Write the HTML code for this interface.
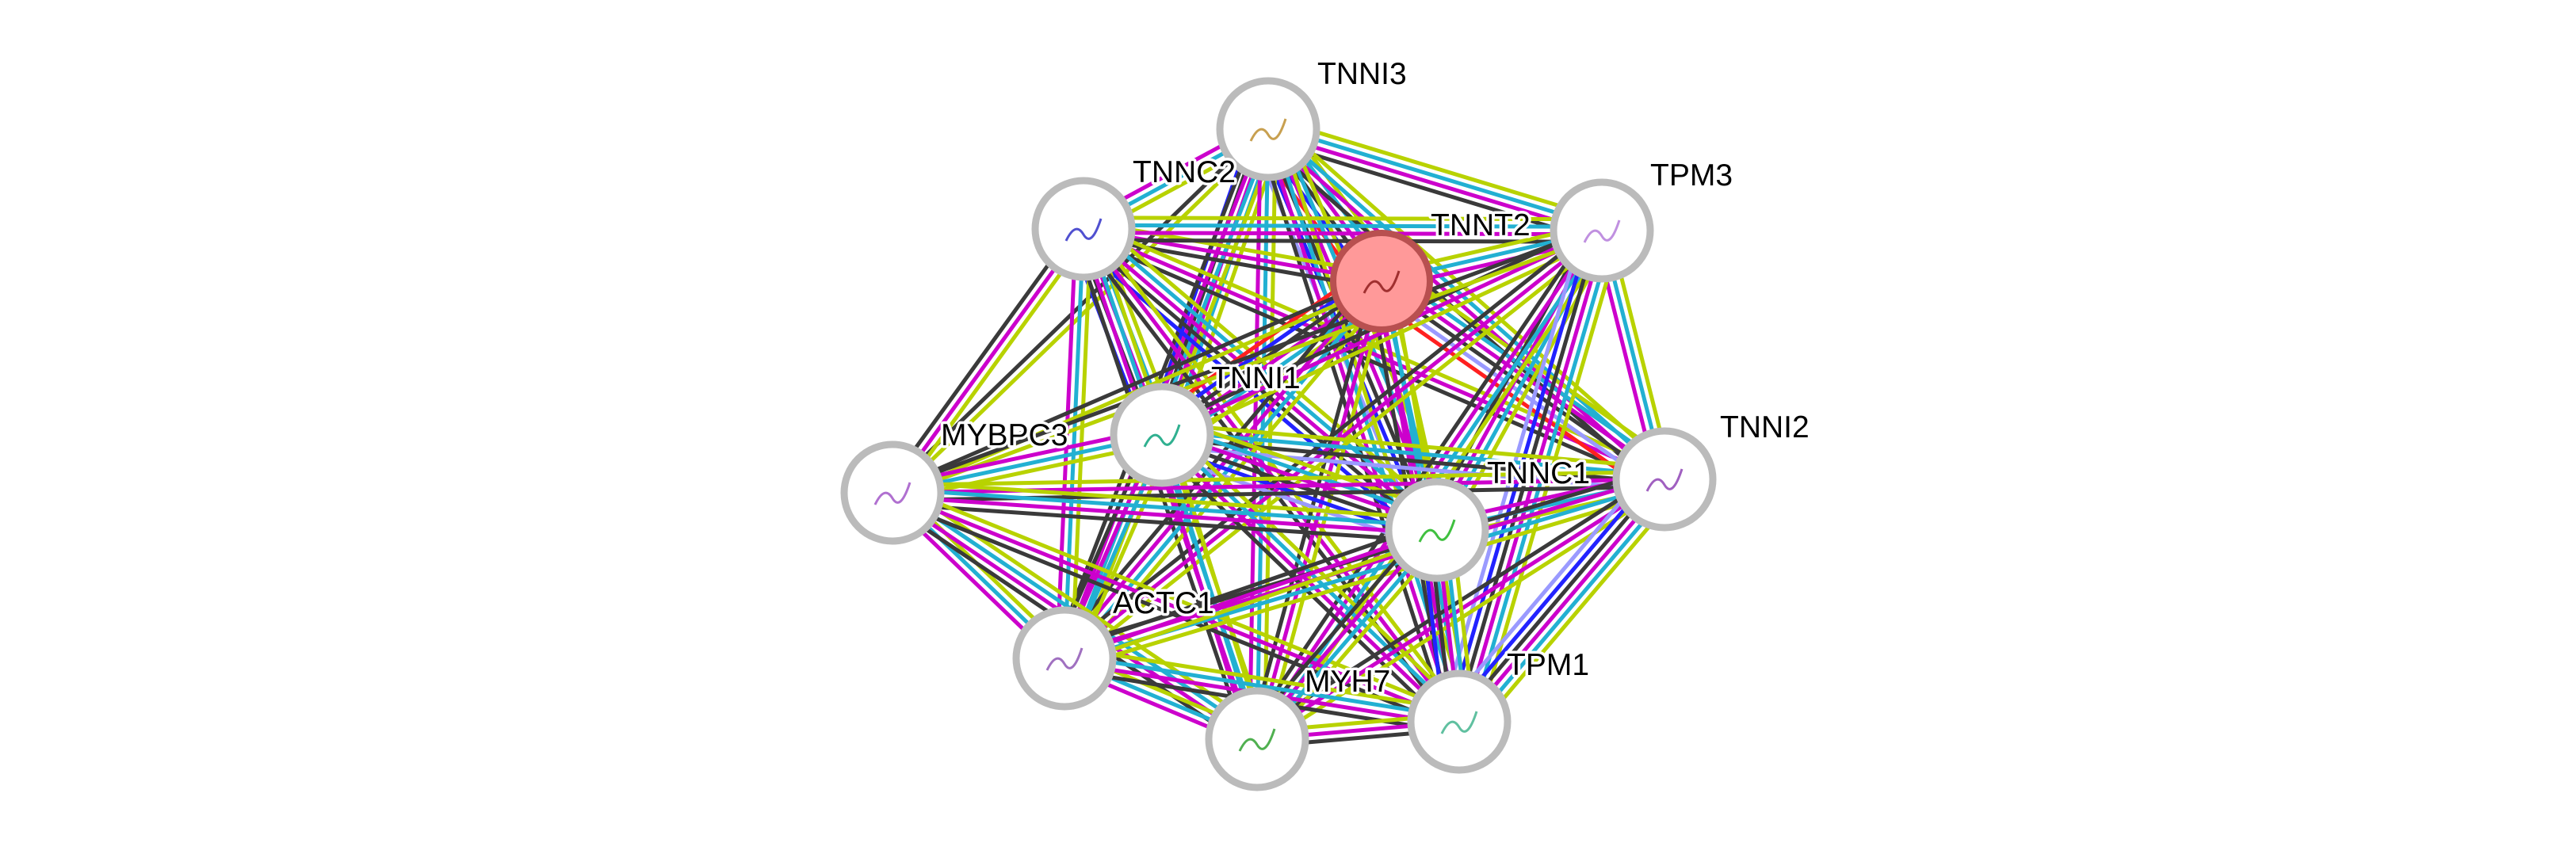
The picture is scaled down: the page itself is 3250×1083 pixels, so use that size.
<!DOCTYPE html>
<html><head><meta charset="utf-8"><style>
html,body{margin:0;padding:0;background:#fff;width:3250px;height:1083px;overflow:hidden}
svg text{font-family:"Liberation Sans",sans-serif;font-size:39px;fill:#000;paint-order:stroke;stroke:#fff;stroke-width:7px;stroke-linejoin:round}
</style></head><body>
<svg id="s" width="3250" height="1083" xmlns="http://www.w3.org/2000/svg"></svg>
<script>
const N={TNNI3:[1600,163],TNNC2:[1367,289],TNNT2:[1743,355],TPM3:[2021,291],TNNI1:[1466,549],MYBPC3:[1126,622],TNNI2:[2100,605],TNNC1:[1813,669],ACTC1:[1343,831],MYH7:[1586,933],TPM1:[1841,911]};
const L={TNNI3:[1662,106],TNNC2:[1429,230],TNNT2:[1805,297],TPM3:[2082,234],TNNI1:[1528,490],MYBPC3:[1187,562],TNNI2:[2170,552],TNNC1:[1876,610],ACTC1:[1404,774],MYH7:[1646,873],TPM1:[1901,852]};
const Y='#b8d200',K='#3a3a3a',M='#cc00cc',C='#22b0d2',B='#2222ff',LB='#9a9aff',R='#ff2020';
const names=Object.keys(N);
const special={
'TNNI3|TNNT2':[Y,C,M,K,B,R],'TNNT2|TNNI2':[Y,C,M,K,LB,R],'TNNT2|TNNI1':[Y,C,M,K,B,R],
'TNNI1|TNNC1':[Y,C,M,K,B,LB],'TNNI1|TNNI2':[Y,C,K,LB],'TNNI3|TNNC1':[Y,C,M,K,B,LB],
'TNNC2|TNNC1':[Y,C,M,K,B],'TNNI2|TPM1':[Y,C,M,K,B,LB],'TNNC1|TPM1':[Y,C,M,K,B],
'TNNI3|TNNI1':[Y,C,M,K,B],'TNNC2|TNNI1':[Y,C,M,K,B],'TPM3|TPM1':[Y,C,M,K,B,LB],
'MYBPC3|TNNI3':[Y,K],'MYBPC3|TNNT2':[Y,K],'MYBPC3|TPM3':[Y,K],'TNNI3|TPM3':[Y,C,M,K],
'MYBPC3|TNNC2':[Y,M,K]};
let h='';
for(let i=0;i<names.length;i++)for(let j=i+1;j<names.length;j++){
 const a=names[i],b=names[j];
 let cols=special[a+'|'+b]||special[b+'|'+a];
 if(!cols){const k=(i*7+j*3)%4;cols=k==0?[Y,C,M,K]:k==1?[Y,M,K]:k==2?[Y,C,M,K]:[Y,C,M];}
 const [x1,y1]=N[a],[x2,y2]=N[b];const dx=x2-x1,dy=y2-y1,l=Math.hypot(dx,dy);const px=-dy/l,py=dx/l;
 const n=cols.length;
 cols.forEach((c,k)=>{const o=(k-(n-1)/2)*9.5;
  h+=`<line x1="${x1+px*o}" y1="${y1+py*o}" x2="${x2+px*o}" y2="${y2+py*o}" stroke="${c}" stroke-width="5"/>`;});
}
const sq={TNNI3:'#c8a050',TNNC2:'#5050d0',TNNT2:'#a03030',TPM3:'#c090e0',TNNI1:'#30b090',MYBPC3:'#b070d0',TNNI2:'#a060c0',TNNC1:'#40c040',ACTC1:'#a070c0',MYH7:'#50b050',TPM1:'#60c0a0'};
for(const n of names){const [x,y]=N[n];
 if(n==='TNNT2')h+=`<circle cx="${x}" cy="${y}" r="61" fill="#ff9999" stroke="#b85050" stroke-width="8"/>`;
 else h+=`<circle cx="${x}" cy="${y}" r="61" fill="#fff" stroke="#bbbbbb" stroke-width="9"/>`;
 h+=`<path d="M${x-22} ${y+15} q12 -25 22 -8 t22 -20" fill="none" stroke="${sq[n]}" stroke-width="3"/>`;
}
for(const n of names){const [x,y]=L[n];h+=`<text x="${x}" y="${y}">${n}</text>`;}
document.getElementById('s').innerHTML=h;
</script>
</body></html>
